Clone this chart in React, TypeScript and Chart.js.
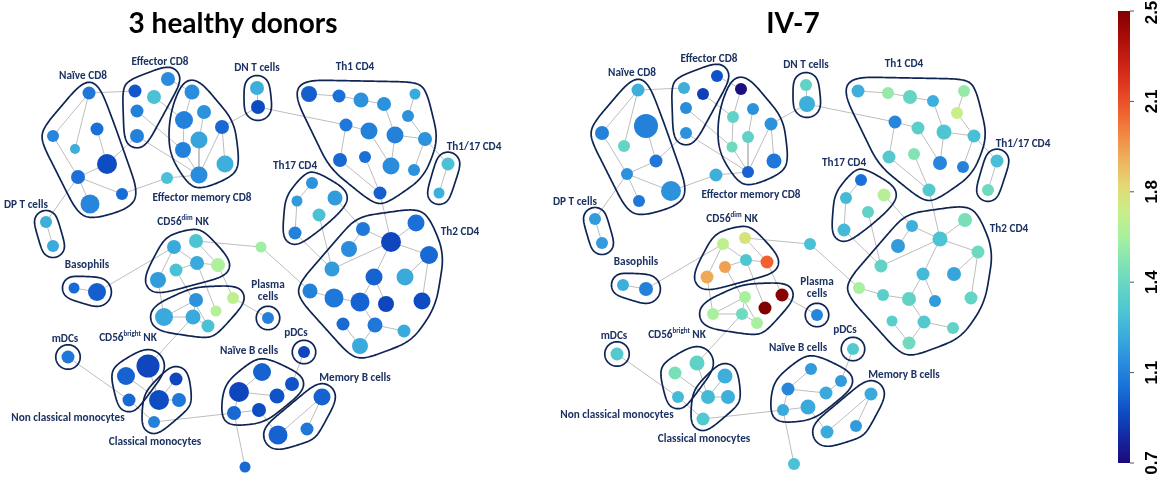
import React, { useEffect, useRef } from 'react';
import { Chart, registerables } from 'chart.js';

Chart.register(...registerables);

// ---------- data ----------
const panelTitles = ['3 healthy donors', 'IV-7'];

const colorbarMin = 0.7;
const colorbarMax = 2.5;
const colorbarTickLabels = ['0.7', '1.1', '1.4', '1.8', '2.1', '2.5'];

// jet-like colour scale stops (value -> colour)
const cmapValues = [0.7, 0.8, 0.9, 1.0, 1.1, 1.2, 1.3, 1.4, 1.5, 1.6, 1.7, 1.8, 1.9, 2.0, 2.1, 2.2, 2.3, 2.4, 2.5];
const cmapColors = ['#1c0a78', '#1428a0', '#0e4cc4', '#1a70d8', '#2a8cdc', '#3aaadc', '#4cc4d4', '#64d4c4', '#82e4b4', '#a8f0a0', '#c8ee88', '#e2da76', '#eeb45e', '#f08c44', '#f06030', '#e03a20', '#c82014', '#a80c08', '#800000'];

const nodeIds = [
  'nc8_1', 'nc8_2', 'nc8_3', 'nc8_4', 'nc8_5', 'nc8_6', 'nc8_7', 'nc8_8',
  'ec8_1', 'ec8_2', 'ec8_3', 'ec8_4', 'ec8_5',
  'em_1', 'em_2', 'em_3', 'em_4', 'em_5', 'em_6', 'em_7', 'em_8', 'em_out',
  'dn_1', 'dn_2',
  't1', 't2', 't3', 't4', 't5', 't6', 't7', 't8', 't9', 't10', 't11', 't12', 't13', 't14', 't15',
  't17a', 't17b',
  's1', 's2', 's3', 's4', 's5',
  'h1', 'h2', 'h3', 'h4', 'h5', 'h6', 'h7', 'h8', 'h9', 'h10', 'h11', 'h12', 'h13', 'h14', 'h15', 'h16', 'h17',
  'lg',
  'nk1', 'nk2', 'nk3', 'nk4', 'nk5', 'nk6',
  'bk1', 'bk2', 'bk3', 'bk4', 'bk5', 'bk6',
  'pl', 'md', 'ba1', 'ba2', 'dp1', 'dp2',
  'ncm1', 'ncm2', 'ncm3',
  'cm1', 'cm2', 'cm3', 'cm4',
  'nb1', 'nb2', 'nb3', 'nb4', 'nb5', 'nb6',
  'pd', 'mb1', 'mb2', 'mb3', 'bt',
];

// SPADE tree layout (shared by both panels)
const layoutX = [
  89, 53, 75, 97, 107, 78, 122, 90,
  168, 135, 154, 137, 137,
  192, 184, 204, 222, 183, 199, 199, 225, 167,
  257, 258,
  309, 339, 361, 384, 415, 408, 346, 369, 395, 425, 340, 365, 391, 414, 380,
  448, 439,
  312, 297, 335, 319, 295,
  363, 416, 391, 349, 429, 332, 374, 405, 310, 334, 360, 386, 422, 343, 375, 404, 360,
  261,
  174, 196, 197, 176, 218, 158,
  196, 164, 193, 208, 216, 233,
  268, 68, 74, 97, 46, 53,
  148, 126, 129,
  176, 159, 179, 154,
  262, 239, 277, 292, 259, 234,
  304, 322, 307, 278, 245,
];
const layoutY = [
  93, 136, 149, 129, 164, 177, 194, 204,
  79, 91, 97, 111, 136,
  92, 120, 112, 127, 150, 140, 175, 164, 178,
  88, 107,
  94, 96, 100, 104, 94, 116, 125, 131, 135, 139, 160, 157, 166, 170, 193,
  164, 193,
  183, 201, 198, 215, 233,
  229, 223, 242, 249, 255, 269, 277, 277, 291, 298, 302, 304, 301, 324, 325, 331, 346,
  247,
  247, 241, 263, 270, 265, 280,
  300, 317, 317, 326, 311, 298,
  318, 357, 288, 292, 222, 246,
  366, 376, 400,
  379, 400, 400, 422,
  372, 392, 396, 384, 410, 413,
  352, 397, 429, 435, 467,
];

// bubble radius (cell abundance) and median intensity, healthy donors
const donorsRadius = [
  6.5, 6, 5, 6.5, 10, 7, 6, 9.5,
  7, 6.5, 7, 6.5, 7,
  7.5, 9, 7, 7, 8, 8.5, 8.5, 8.5, 6,
  7, 7,
  8, 6.5, 7.5, 7, 5.5, 6, 6.5, 8.5, 8.5, 7, 7, 6, 8.5, 6, 6.5,
  6.5, 5.5,
  6, 5.5, 7.5, 6.5, 6.5,
  7, 8.5, 10, 8, 9, 7.5, 8.5, 8.5, 7.5, 9.5, 9.5, 8, 8.5, 6.5, 7.5, 6.5, 8,
  5.5,
  7, 7, 7, 6.5, 7, 8,
  7, 9, 7.5, 6.5, 5.5, 6,
  6, 6.5, 5.5, 9, 6, 6,
  11.5, 9, 6.5,
  6.5, 10, 7, 6,
  9, 10, 7.5, 7, 7, 7,
  6, 8.5, 6.5, 9.5, 5.5,
];
const donorsValue = [
  1.03, 1.08, 1.22, 1.0, 0.9, 1.0, 0.99, 1.08,
  1.1, 0.93, 1.29, 1.06, 1.06,
  1.1, 1.06, 1.12, 0.98, 1.06, 1.18, 1.1, 1.22, 1.29,
  1.22, 0.9,
  0.95, 1.0, 1.12, 1.12, 1.2, 1.12, 1.03, 1.06, 1.06, 1.12, 0.98, 1.0, 1.1, 1.12, 0.95,
  1.29, 1.22,
  1.12, 1.15, 1.15, 1.29, 1.06,
  1.03, 1.0, 0.88, 1.1, 0.98, 1.15, 0.96, 1.2, 1.06, 1.03, 0.96, 0.88, 0.9, 0.98, 1.03, 1.2, 1.2,
  1.58,
  1.2, 1.3, 1.2, 1.29, 1.62, 1.15,
  1.12, 1.2, 1.2, 1.29, 1.64, 1.67,
  1.06, 1.03, 0.98, 0.95, 1.22, 1.2,
  0.88, 0.96, 0.98,
  0.88, 0.9, 1.03, 1.06,
  0.96, 0.88, 0.92, 0.92, 0.9, 0.98,
  0.88, 0.96, 1.03, 0.96, 0.98,
];

// patient IV-7
const iv7Radius = [
  6.5, 7, 6, 12, 6.5, 6, 10, 6,
  6, 6, 6, 6, 6,
  6, 6, 6, 6.5, 5.5, 6, 6, 7.5, 6.5,
  6, 8,
  6.5, 6, 7, 6, 6, 6, 6.5, 6.5, 7.5, 6.5, 6.5, 6, 7, 6, 6.5,
  6.5, 6,
  6, 6, 6.5, 6, 6.5,
  6, 7, 7.5, 7, 6.5, 6.5, 6.5, 7, 6, 6, 7, 6, 6.5, 5.5, 6.5, 6, 6.5,
  6,
  6, 6, 6, 6, 6.5, 6.5,
  6, 6, 6, 6, 6.5, 6.5,
  6, 6.5, 6, 7, 6, 6,
  7.5, 6.5, 6,
  7.5, 7, 7, 6.5,
  6, 6.5, 6.5, 6, 7.5, 6,
  6, 6.5, 6, 6.5, 6,
];
const iv7Value = [
  1.22, 1.06, 1.4, 1.06, 1.03, 1.12, 1.12, 1.03,
  0.92, 1.22, 0.86, 1.1, 1.12,
  0.72, 1.39, 1.12, 1.12, 1.44, 1.38, 0.96, 1.03, 1.22,
  1.39, 1.22,
  1.22, 1.55, 1.4, 1.22, 1.55, 1.7, 1.08, 1.36, 1.31, 1.28, 1.33, 1.5, 1.08, 1.06, 1.33,
  1.28, 1.44,
  1.0, 1.26, 1.64, 1.39, 1.26,
  1.22, 1.47, 1.3, 1.15, 1.43, 1.39, 1.26, 1.18, 1.6, 1.36, 1.39, 1.15, 1.4, 1.36, 1.33, 1.39, 1.44,
  1.29,
  1.67, 1.76, 1.31, 1.95, 2.1, 1.93,
  1.6, 1.6, 1.44, 1.6, 2.5, 2.48,
  1.08, 1.33, 1.22, 1.06, 1.15, 1.15,
  1.38, 1.47, 1.26,
  1.22, 1.26, 1.22, 1.33,
  1.15, 1.08, 1.2, 1.15, 1.2, 1.2,
  1.33, 1.2, 1.15, 1.2, 1.29,
];

const edgeList: [string, string][] = [
  ['nc8_1', 'nc8_2'], ['nc8_1', 'nc8_3'], ['nc8_1', 'ec8_2'], ['nc8_2', 'nc8_6'], ['nc8_4', 'nc8_5'], ['nc8_5', 'nc8_6'],
  ['nc8_5', 'ec8_5'], ['nc8_6', 'nc8_7'], ['nc8_6', 'nc8_8'], ['nc8_6', 'dp1'], ['nc8_7', 'em_out'], ['dp1', 'dp2'],
  ['ec8_1', 'em_1'], ['ec8_3', 'em_2'], ['ec8_4', 'em_5'], ['ec8_5', 'em_7'],
  ['em_1', 'em_2'], ['em_2', 'em_5'], ['em_3', 'em_6'], ['em_5', 'em_7'], ['em_6', 'em_7'], ['em_4', 'em_7'], ['em_4', 'em_8'],
  ['em_4', 'dn_2'], ['em_out', 'em_7'],
  ['dn_1', 'dn_2'], ['dn_2', 't7'],
  ['t1', 't2'], ['t2', 't3'], ['t3', 't4'], ['t4', 't9'], ['t5', 't6'], ['t6', 't10'], ['t9', 't10'], ['t7', 't8'], ['t7', 't11'],
  ['t8', 't13'], ['t9', 't13'], ['t10', 't14'], ['t11', 't15'], ['t12', 't15'], ['t10', 't17a'], ['t17a', 't17b'], ['t15', 'h3'],
  ['s1', 's2'], ['s2', 's5'], ['s3', 'h1'], ['s4', 'h6'], ['s5', 'h6'],
  ['h1', 'h3'], ['h2', 'h3'], ['h3', 'h5'], ['h3', 'h7'], ['h3', 'h6'], ['h4', 'h1'], ['h5', 'h8'], ['h5', 'h13'], ['h7', 'h11'],
  ['h7', 'h12'], ['h9', 'h10'], ['h10', 'h11'], ['h11', 'h15'], ['h15', 'h16'], ['h15', 'h17'], ['h14', 'h17'], ['h9', 'lg'],
  ['lg', 'nk2'], ['nk1', 'nk6'], ['nk1', 'nk3'], ['nk3', 'nk4'], ['nk2', 'nk5'], ['nk3', 'nk5'], ['nk1', 'ba2'], ['ba1', 'ba2'],
  ['nk6', 'bk2'], ['nk3', 'bk5'], ['nk4', 'bk4'], ['nk5', 'bk6'],
  ['bk1', 'bk3'], ['bk2', 'bk3'], ['bk1', 'bk2'], ['bk3', 'bk4'], ['bk6', 'pl'], ['bk3', 'ncm1'],
  ['md', 'ncm3'], ['ncm1', 'cm2'], ['ncm2', 'cm2'], ['ncm3', 'cm4'], ['cm1', 'cm2'], ['cm2', 'cm3'], ['cm4', 'nb6'],
  ['nb1', 'nb2'], ['nb2', 'nb3'], ['nb2', 'nb6'], ['nb6', 'nb5'], ['nb3', 'nb4'], ['nb4', 'pd'], ['nb6', 'bt'], ['nb5', 'mb3'],
  ['mb1', 'mb2'], ['mb1', 'mb3'],
];

const clusterLabels = [
  'Naïve CD8', 'Effector CD8', 'Effector memory CD8', 'DN T cells', 'Th1 CD4', 'Th1/17 CD4', 'Th17 CD4', 'Th2 CD4',
  'DP T cells', 'CD56^dim^ NK', 'CD56^bright^ NK', 'Basophils', 'Plasma\ncells', 'mDCs', 'pDCs',
  'Non classical monocytes', 'Classical monocytes', 'Naïve B cells', 'Memory B cells',
];
const clusterMembers = [
  ['nc8_1', 'nc8_2', 'nc8_3', 'nc8_4', 'nc8_5', 'nc8_6', 'nc8_7', 'nc8_8'],
  ['ec8_1', 'ec8_2', 'ec8_3', 'ec8_4', 'ec8_5'],
  ['em_1', 'em_2', 'em_3', 'em_4', 'em_5', 'em_6', 'em_7', 'em_8'],
  ['dn_1', 'dn_2'],
  ['t1', 't2', 't3', 't4', 't5', 't6', 't7', 't8', 't9', 't10', 't11', 't12', 't13', 't14', 't15'],
  ['t17a', 't17b'],
  ['s1', 's2', 's3', 's4', 's5'],
  ['h1', 'h2', 'h3', 'h4', 'h5', 'h6', 'h7', 'h8', 'h9', 'h10', 'h11', 'h12', 'h13', 'h14', 'h15', 'h16', 'h17'],
  ['dp1', 'dp2'],
  ['nk1', 'nk2', 'nk3', 'nk4', 'nk5', 'nk6'],
  ['bk1', 'bk2', 'bk3', 'bk4', 'bk5', 'bk6'],
  ['ba1', 'ba2'],
  ['pl'],
  ['md'],
  ['pd'],
  ['ncm1', 'ncm2', 'ncm3'],
  ['cm1', 'cm2', 'cm3', 'cm4'],
  ['nb1', 'nb2', 'nb3', 'nb4', 'nb5', 'nb6'],
  ['mb1', 'mb2', 'mb3'],
];
// label anchors in layout coordinates
const labelAnchorX = [83, 160, 202, 257, 355, 474, 295, 460, 26, 183, 128, 87, 268, 65, 296, 68, 155, 249, 355];
const labelAnchorY = [76, 62, 198, 68, 67, 147, 166, 232, 205, 222, 338, 265, 285, 339, 333, 418, 442, 351, 378];

// ---------- helpers ----------
function hexToRgb(h: string) {
  const n = parseInt(h.slice(1), 16);
  return [(n >> 16) & 255, (n >> 8) & 255, n & 255];
}
function colorFor(v: number) {
  const c = Math.max(cmapValues[0], Math.min(cmapValues[cmapValues.length - 1], v));
  let i = 0;
  while (i < cmapValues.length - 2 && c > cmapValues[i + 1]) i++;
  const t = (c - cmapValues[i]) / (cmapValues[i + 1] - cmapValues[i]);
  const a = hexToRgb(cmapColors[i]);
  const b = hexToRgb(cmapColors[i + 1]);
  const m = a.map((x, k) => Math.round(x + (b[k] - x) * t));
  return `rgb(${m[0]},${m[1]},${m[2]})`;
}
function convexHull(pts: number[][]) {
  const p = pts.slice().sort((a, b) => a[0] - b[0] || a[1] - b[1]);
  const cross = (o: number[], a: number[], b: number[]) => (a[0] - o[0]) * (b[1] - o[1]) - (a[1] - o[1]) * (b[0] - o[0]);
  const lower: number[][] = [];
  for (const q of p) {
    while (lower.length >= 2 && cross(lower[lower.length - 2], lower[lower.length - 1], q) <= 0) lower.pop();
    lower.push(q);
  }
  const upper: number[][] = [];
  for (let i = p.length - 1; i >= 0; i--) {
    const q = p[i];
    while (upper.length >= 2 && cross(upper[upper.length - 2], upper[upper.length - 1], q) <= 0) upper.pop();
    upper.push(q);
  }
  upper.pop();
  lower.pop();
  return lower.concat(upper);
}
function smoothClosed(poly: number[][], step: number, maxHalf: number) {
  const res: number[][] = [];
  const n = poly.length;
  for (let i = 0; i < n; i++) {
    const a = poly[i];
    const b = poly[(i + 1) % n];
    const len = Math.hypot(b[0] - a[0], b[1] - a[1]);
    const m = Math.max(1, Math.ceil(len / step));
    for (let k = 0; k < m; k++) {
      const t = k / m;
      res.push([a[0] + (b[0] - a[0]) * t, a[1] + (b[1] - a[1]) * t]);
    }
  }
  const N = res.length;
  const h = Math.min(maxHalf, Math.floor(N * 0.06));
  if (h < 1) return res;
  const out: number[][] = [];
  for (let i = 0; i < N; i++) {
    let sx = 0, sy = 0;
    for (let j = -h; j <= h; j++) {
      const q = res[(i + j + N) % N];
      sx += q[0];
      sy += q[1];
    }
    out.push([sx / (2 * h + 1), sy / (2 * h + 1)]);
  }
  return out;
}

const idIndex: Record<string, number> = {};
nodeIds.forEach((id, i) => (idIndex[id] = i));

const panels = [
  { xAxis: 'xL', yAxis: 'yL', radius: donorsRadius, values: donorsValue },
  { xAxis: 'xR', yAxis: 'yR', radius: iv7Radius, values: iv7Value },
];

const NAVY = '#1c3262';
const LABEL_TARGET = 'Effector memory CD8';
const LABEL_TARGET_WIDTH = 99;

function pickLabelStyle(ctx: CanvasRenderingContext2D) {
  ctx.font = '700 12px monospace';
  const base = ctx.measureText(LABEL_TARGET).width;
  for (const fam of ['Carlito', 'Liberation Sans Narrow']) {
    ctx.font = `700 12px "${fam}", monospace`;
    const w = ctx.measureText(LABEL_TARGET).width;
    if (Math.abs(w - base) > 0.5) {
      return { family: `"${fam}"`, size: (12 * LABEL_TARGET_WIDTH) / w, scaleX: 1 };
    }
  }
  ctx.font = '700 12px "Liberation Sans"';
  const w = ctx.measureText(LABEL_TARGET).width;
  return { family: '"Liberation Sans"', size: 12, scaleX: LABEL_TARGET_WIDTH / w };
}

function drawRichLabel(ctx: CanvasRenderingContext2D, style: any, text: string, cx: number, cy: number) {
  const mainFont = `700 ${style.size}px ${style.family}`;
  const supFont = `700 ${style.size * 0.62}px ${style.family}`;
  const lines = text.split('\n');
  lines.forEach((line, li) => {
    const segs = line.split('^');
    let total = 0;
    const widths = segs.map((s, k) => {
      ctx.font = k % 2 === 1 ? supFont : mainFont;
      const w = ctx.measureText(s).width;
      total += w;
      return w;
    });
    const y = cy + li * 12.5;
    ctx.save();
    ctx.translate(cx, y);
    ctx.scale(style.scaleX, 1);
    let x = -total / 2;
    segs.forEach((s, k) => {
      ctx.font = k % 2 === 1 ? supFont : mainFont;
      ctx.textAlign = 'left';
      ctx.textBaseline = 'middle';
      ctx.fillStyle = NAVY;
      ctx.fillText(s, x, k % 2 === 1 ? -3.5 : 0);
      x += widths[k];
    });
    ctx.restore();
  });
}

const overlayPlugin = {
  id: 'spadeOverlay',
  afterDatasetsDraw(chart: any) {
    const ctx: CanvasRenderingContext2D = chart.ctx;
    ctx.save();
    const style = pickLabelStyle(ctx);
    panels.forEach((p) => {
      const sx = chart.scales[p.xAxis];
      const sy = chart.scales[p.yAxis];
      // cluster outlines
      ctx.strokeStyle = '#0e2452';
      ctx.lineWidth = 1.7;
      ctx.lineJoin = 'round';
      clusterMembers.forEach((members) => {
        const pts: number[][] = [];
        members.forEach((id) => {
          const i = idIndex[id];
          const px = sx.getPixelForValue(layoutX[i]);
          const py = sy.getPixelForValue(layoutY[i]);
          const R = Math.max(donorsRadius[i], iv7Radius[i]) + 6;
          for (let k = 0; k < 48; k++) {
            const a = (k / 48) * Math.PI * 2;
            pts.push([px + R * Math.cos(a), py + R * Math.sin(a)]);
          }
        });
        const hull = smoothClosed(convexHull(pts), 1.5, 14);
        ctx.beginPath();
        hull.forEach((q, k) => (k === 0 ? ctx.moveTo(q[0], q[1]) : ctx.lineTo(q[0], q[1])));
        ctx.closePath();
        ctx.stroke();
      });
      // labels
      clusterLabels.forEach((t, k) => {
        drawRichLabel(ctx, style, t, sx.getPixelForValue(labelAnchorX[k]), sy.getPixelForValue(labelAnchorY[k]));
      });
    });

    // titles
    ctx.fillStyle = '#000';
    ctx.font = '700 28px Lato';
    ctx.textAlign = 'center';
    ctx.textBaseline = 'alphabetic';
    ctx.fillText(panelTitles[0], 233, 33);
    ctx.fillText(panelTitles[1], 793, 33);

    // colour bar
    const cbX = 1118, cbW = 12, cbTop = 11, cbBottom = 463;
    const grad = ctx.createLinearGradient(0, cbBottom, 0, cbTop);
    cmapValues.forEach((v, k) => grad.addColorStop((v - colorbarMin) / (colorbarMax - colorbarMin), cmapColors[k]));
    ctx.fillStyle = grad;
    ctx.fillRect(cbX, cbTop, cbW, cbBottom - cbTop);
    ctx.strokeStyle = '#555';
    ctx.lineWidth = 1;
    ctx.fillStyle = '#000';
    ctx.font = '700 17px "Liberation Sans"';
    colorbarTickLabels.forEach((lab, k) => {
      const y = cbBottom - (k / (colorbarTickLabels.length - 1)) * (cbBottom - cbTop);
      ctx.beginPath();
      ctx.moveTo(cbX + cbW, y);
      ctx.lineTo(cbX + cbW + 4, y);
      ctx.stroke();
      const ty = Math.max(12.5, Math.min(469, y));
      ctx.save();
      ctx.translate(1156.5, ty);
      ctx.rotate(-Math.PI / 2);
      ctx.textAlign = 'center';
      ctx.textBaseline = 'alphabetic';
      ctx.fillText(lab, 0, 0);
      ctx.restore();
    });
    ctx.restore();
  },
};

export default function App() {
  const ref = useRef<HTMLCanvasElement>(null);
  useEffect(() => {
    if (!ref.current) return;
    const datasets: any[] = [];
    panels.forEach((p, pi) => {
      datasets.push({
        type: 'bubble',
        label: panelTitles[pi],
        data: nodeIds.map((_, i) => ({ x: layoutX[i], y: layoutY[i], r: p.radius[i] })),
        backgroundColor: p.values.map(colorFor),
        borderWidth: 0,
        hoverRadius: 0,
        xAxisID: p.xAxis,
        yAxisID: p.yAxis,
        order: 0,
        clip: false,
      });
      const edgePts: any[] = [];
      edgeList.forEach(([a, b]) => {
        const i = idIndex[a], j = idIndex[b];
        edgePts.push({ x: layoutX[i], y: layoutY[i] }, { x: layoutX[j], y: layoutY[j] }, { x: null, y: null });
      });
      datasets.push({
        type: 'line',
        label: 'edges',
        data: edgePts,
        borderColor: '#bdbdbd',
        borderWidth: 1,
        pointRadius: 0,
        showLine: true,
        spanGaps: false,
        fill: false,
        tension: 0,
        xAxisID: p.xAxis,
        yAxisID: p.yAxis,
        order: 1,
        clip: false,
      });
    });
    const chart = new Chart(ref.current, {
      type: 'bubble',
      data: { datasets },
      options: {
        responsive: false,
        devicePixelRatio: 1,
        animation: false,
        events: [],
        layout: { padding: 0, autoPadding: false },
        plugins: { legend: { display: false }, tooltip: { enabled: false }, title: { display: false } },
        scales: {
          xL: { type: 'linear', axis: 'x', display: false, min: 0, max: 1166 },
          yL: { type: 'linear', axis: 'y', display: false, min: 0, max: 482, reverse: true },
          xR: { type: 'linear', axis: 'x', display: false, min: -549, max: 617 },
          yR: { type: 'linear', axis: 'y', display: false, min: 3, max: 485, reverse: true },
        },
      } as any,
      plugins: [overlayPlugin],
    });
    return () => chart.destroy();
  }, []);
  return (
    <div style={{ position: 'fixed', left: 0, top: 0, width: 1166, height: 482, background: '#fff' }}>
      <canvas ref={ref} width={1166} height={482} style={{ display: 'block', width: 1166, height: 482 }} />
    </div>
  );
}
